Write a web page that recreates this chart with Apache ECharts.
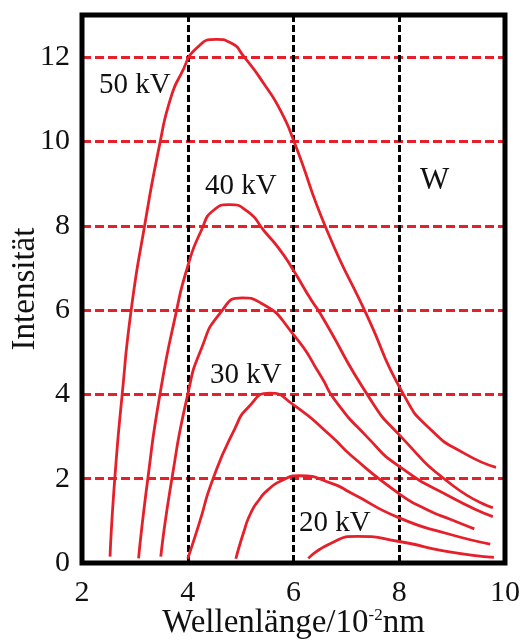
<!DOCTYPE html>
<html>
<head>
<meta charset="utf-8">
<script src="https://cdn.jsdelivr.net/npm/echarts@6/dist/echarts.min.js"></script>
<style>
  html, body { margin: 0; padding: 0; background: #fff; }
  #chart { width: 529px; height: 643px; }
</style>
</head>
<body>
<div id="chart"></div>
<script>
// Bremsstrahlung-Spektren (W-Anode)
var kv50 = [[2.53, 0.15], [2.62, 2.0], [2.76, 4.0], [2.93, 6.0], [3.17, 7.9], [3.48, 10.0], [3.68, 11.04], [3.87, 11.59], [4.18, 12.23], [4.55, 12.42], [4.81, 12.34], [5.07, 12.0], [5.45, 11.35], [5.76, 10.72], [6.01, 10.0], [6.63, 7.9], [7.38, 5.9], [8.08, 4.0], [8.6, 3.16], [9.23, 2.6], [9.83, 2.27]];
var kv40 = [[3.07, 0.11], [3.24, 1.95], [3.47, 3.97], [3.78, 5.94], [4.0, 7.04], [4.25, 7.87], [4.5, 8.38], [4.78, 8.5], [5.13, 8.34], [5.45, 7.87], [5.76, 7.4], [6.01, 6.92], [6.33, 6.25], [6.5, 5.93], [7.46, 3.87], [8.0, 3.04], [9.0, 1.85], [9.77, 1.31]];
var kv35 = [[3.49, 0.15], [3.7, 2.0], [4.0, 4.0], [4.25, 5.06], [4.62, 5.94], [5.03, 6.29], [5.38, 6.17], [6.0, 5.42], [6.52, 4.43], [6.78, 3.87], [7.4, 2.98], [8.0, 2.29], [9.0, 1.55], [9.77, 1.1]];
var kv30 = [[4.0, 0.1], [4.22, 0.95], [4.47, 1.97], [4.88, 3.16], [5.15, 3.7], [5.55, 4.03], [6.0, 3.75], [6.72, 3.0], [7.09, 2.55], [7.98, 1.66], [8.5, 1.28], [9.0, 1.02], [9.42, 0.81]];
var kv25 = [[4.91, 0.1], [5.05, 0.7], [5.19, 1.18], [5.35, 1.5], [5.51, 1.73], [5.8, 1.97], [6.1, 2.07], [6.72, 1.89], [7.09, 1.66], [8.0, 1.07], [8.9, 0.7], [9.72, 0.45]];
var kv20 = [[6.28, 0.11], [6.71, 0.47], [7.21, 0.63], [8.0, 0.51], [8.92, 0.27], [9.79, 0.135]];

var curves = [kv50, kv40, kv35, kv30, kv25, kv20];
var curveNames = ['50 kV', '40 kV', '35 kV', '30 kV', '25 kV', '20 kV'];
var yTicks = [0, 2, 4, 6, 8, 10, 12];
var xTicks = [2, 4, 6, 8, 10];

var serif = "'Liberation Serif', 'DejaVu Serif', serif";
var red = '#e5202b';

var chart = echarts.init(document.getElementById('chart'));

var series = curves.map(function (d, i) {
  return {
    name: curveNames[i],
    type: 'line',
    data: d,
    smooth: 0.6,
    smoothConstraint: false,
    showSymbol: false,
    lineStyle: { color: red, width: 2.8 }
  };
});

chart.setOption({
  animation: false,
  grid: {
    left: 82, right: 24, top: 15, bottom: 80,
    outerBoundsMode: 'none',
    show: true, z: 3,
    borderColor: '#000', borderWidth: 5,
    backgroundColor: 'transparent'
  },
  xAxis: {
    type: 'value', min: 2, max: 10, interval: 2, z: 1,
    name: 'Wellenlänge/10{sup|-2}nm',
    nameLocation: 'middle', nameGap: 44, nameMoveOverlap: false,
    nameTextStyle: {
      fontFamily: serif, fontSize: 33, color: '#111',
      rich: { sup: { fontFamily: serif, fontSize: 17, color: '#111', verticalAlign: 'top', padding: [0, 0, 14, 0] } }
    },
    axisLine: { show: false },
    axisTick: { show: false },
    axisLabel: {
      fontFamily: serif, fontSize: 30, color: '#111', margin: 15,
      formatter: function (v) { return xTicks.indexOf(v) >= 0 ? String(v) : ''; }
    },
    splitLine: { show: true, lineStyle: { color: '#000', width: 3, type: [7, 3] } }
  },
  yAxis: {
    type: 'value', min: 0, max: 13, interval: 2, z: 0,
    name: 'Intensität',
    nameLocation: 'middle', nameGap: 40, nameRotate: 90, nameMoveOverlap: false,
    nameTextStyle: { fontFamily: serif, fontSize: 33, color: '#111' },
    axisLine: { show: false },
    axisTick: { show: false },
    axisLabel: {
      fontFamily: serif, fontSize: 30, color: '#111', margin: 12,
      formatter: function (v) { return yTicks.indexOf(v) >= 0 ? String(v) : ''; }
    },
    splitLine: { show: true, lineStyle: { color: red, width: 3, type: [9, 4] } }
  },
  graphic: [
    { type: 'text', left: 99, top: 71, z: 10, style: { text: '50 kV', font: '29px ' + serif, fill: '#111' } },
    { type: 'text', left: 205, top: 172, z: 10, style: { text: '40 kV', font: '29px ' + serif, fill: '#111' } },
    { type: 'text', left: 210, top: 361, z: 10, style: { text: '30 kV', font: '29px ' + serif, fill: '#111' } },
    { type: 'text', left: 299, top: 509, z: 10, style: { text: '20 kV', font: '29px ' + serif, fill: '#111' } },
    { type: 'text', left: 420, top: 165, z: 10, style: { text: 'W', font: '31px ' + serif, fill: '#111' } }
  ],
  series: series
});
</script>
</body>
</html>
